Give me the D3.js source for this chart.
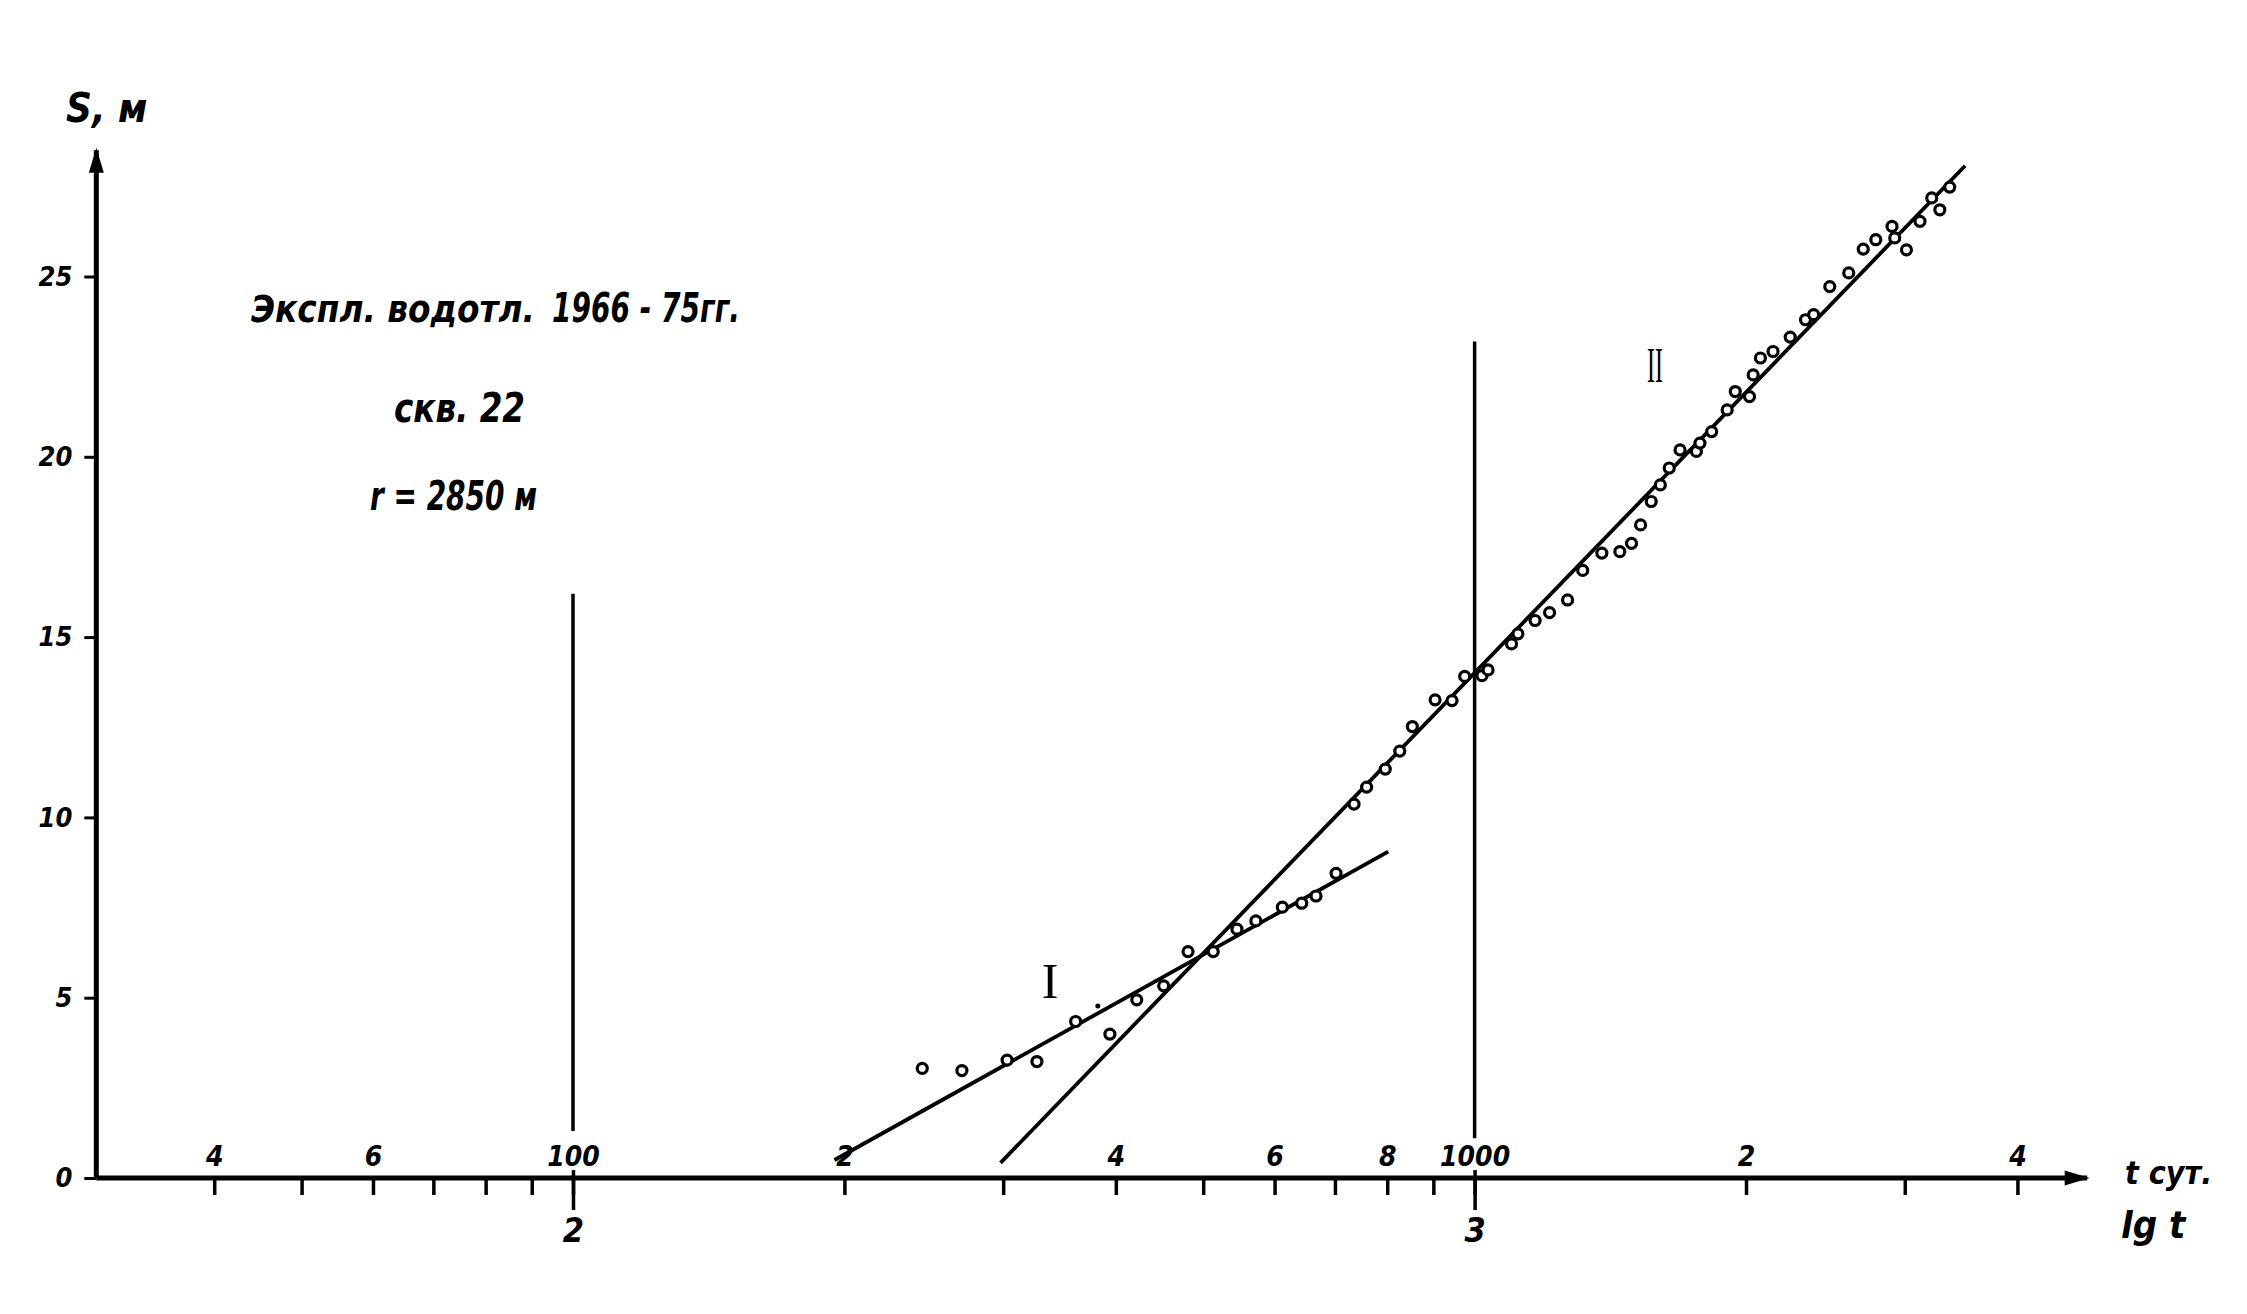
<!DOCTYPE html>
<html>
<head>
<meta charset="utf-8">
<script src="https://cdn.jsdelivr.net/npm/d3@7"></script>
<style>
  body { margin: 0; background: #fff; }
  text { font-family: "DejaVu Sans Condensed", "Liberation Sans Narrow", sans-serif; font-style: italic; font-weight: bold; fill: #000; }
  .roman { font-family: "Liberation Serif", "DejaVu Serif", serif; font-style: normal; font-weight: normal; }
</style>
</head>
<body>
<svg id="chart" width="2247" height="1314"></svg>
<script>
// observed drawdown S (m) vs time t (days)
const obsT = [244, 270, 303, 327, 361, 394, 422, 452, 481, 513, 545, 572, 612, 643, 667, 702,
  735, 759, 796, 826, 853, 904, 944, 975, 1019, 1035, 1099, 1117, 1167, 1211, 1268, 1318, 1384, 1449,
  1493, 1528, 1570, 1607, 1644, 1690, 1762, 1778, 1832, 1906, 1946, 2018, 2037, 2075, 2143, 2239,
  2328, 2377, 2477, 2600, 2698, 2786, 2904, 2924, 3013, 3119, 3214, 3281, 3365];
const obsS = [3.04, 2.98, 3.27, 3.23, 4.34, 3.99, 4.94, 5.33, 6.28, 6.28, 6.90, 7.13, 7.51, 7.62, 7.82, 8.45,
  10.37, 10.84, 11.34, 11.84, 12.52, 13.26, 13.24, 13.91, 13.93, 14.09, 14.81, 15.09, 15.46, 15.68, 16.03, 16.85, 17.33, 17.37,
  17.60, 18.11, 18.76, 19.22, 19.69, 20.19, 20.15, 20.38, 20.70, 21.30, 21.81, 21.67, 22.27, 22.74, 22.92, 23.32,
  23.80, 23.94, 24.72, 25.10, 25.76, 26.02, 26.39, 26.07, 25.74, 26.53, 27.18, 26.85, 27.48];
const dotT = [382], dotS = [4.77];

// straight lines I and II
const line1T = [195, 802], line1S = [0.5, 9.05];
const line2T = [298, 3500], line2S = [0.42, 28.07];

// vertical lines at lg t = 2 and 3
const refT = [100, 1000];
const refBottom = [1.3, 1.1];
const refTop = [16.2, 23.2];

const xTicks = [40, 50, 60, 70, 80, 90, 100, 200, 300, 400, 500, 600, 700, 800, 900, 1000, 2000, 3000, 4000];
const xLabelT = [40, 60, 100, 200, 400, 600, 800, 1000, 2000, 4000];
const xLabelText = ['4', '6', '100', '2', '4', '6', '8', '1000', '2', '4'];
const lgT = [100, 1000];
const lgText = ['2', '3'];
const yTicks = [0, 5, 10, 15, 20, 25];

const svg = d3.select('#chart');
svg.append('rect').attr('width', 2247).attr('height', 1314).attr('fill', '#fff');

const x = d3.scaleLog().domain([100, 1000]).range([573, 1474.6]);
const y = d3.scaleLinear().domain([0, 25]).range([1178, 276.5]);
const xStart = 29.6, xEnd = 4780, yEnd = 28.5;

// arrow heads
const defs = svg.append('defs');
defs.append('marker').attr('id', 'arrow')
  .attr('viewBox', '0 0 10 10').attr('refX', 9).attr('refY', 5)
  .attr('markerWidth', 9).attr('markerHeight', 5).attr('markerUnits', 'strokeWidth')
  .attr('orient', 'auto')
  .append('path').attr('d', 'M0,2 L10,5 L0,8 Z').attr('fill', '#000');

// axis lines
svg.append('line')
  .attr('x1', x(xStart)).attr('y1', y(0)).attr('x2', x(xEnd)).attr('y2', y(0))
  .attr('stroke', '#000').attr('stroke-width', 5).attr('marker-end', 'url(#arrow)');
svg.append('line')
  .attr('x1', x(xStart)).attr('y1', y(0)).attr('x2', x(xStart)).attr('y2', y(yEnd))
  .attr('stroke', '#000').attr('stroke-width', 5).attr('marker-end', 'url(#arrow)');

// x ticks below axis
const xAxis = svg.append('g').attr('transform', `translate(0,${y(0)})`)
  .call(d3.axisBottom(x).tickValues(xTicks).tickSize(17).tickFormat(''));
xAxis.select('.domain').remove();
xAxis.selectAll('.tick line').attr('stroke', '#000').attr('stroke-width', 3.5);

// t labels above axis
const xTop = svg.append('g').attr('transform', `translate(0,${y(0) - 8})`)
  .call(d3.axisTop(x).tickValues(xLabelT).tickSize(0).tickPadding(4)
    .tickFormat((d, i) => xLabelText[i]));
xTop.select('.domain').remove();
xTop.selectAll('text').attr('font-size', 28).style('font-family', null);

// lg t ticks and labels
const xLg = svg.append('g').attr('transform', `translate(0,${y(0) - 8})`)
  .call(d3.axisBottom(x).tickValues(lgT).tickSize(40).tickPadding(8)
    .tickFormat((d, i) => lgText[i]));
xLg.select('.domain').remove();
xLg.selectAll('.tick line').attr('stroke', '#000').attr('stroke-width', 3.5);
xLg.selectAll('text').attr('font-size', 34).style('font-family', null);

// y axis ticks
const yAxis = svg.append('g').attr('transform', `translate(${x(xStart)},0)`)
  .call(d3.axisLeft(y).tickValues(yTicks).tickSize(12).tickPadding(12));
yAxis.select('.domain').remove();
yAxis.selectAll('.tick line').attr('stroke', '#000').attr('stroke-width', 3);
yAxis.selectAll('text').attr('font-size', 27).style('font-family', null);

// vertical reference lines
svg.selectAll('.ref').data(refT).enter().append('line')
  .attr('class', 'ref')
  .attr('x1', d => x(d)).attr('x2', d => x(d))
  .attr('y1', (d, i) => y(refBottom[i])).attr('y2', (d, i) => y(refTop[i]))
  .attr('stroke', '#000').attr('stroke-width', 3.5);

// fitted lines
const line = d3.line().x(d => x(d[0])).y(d => y(d[1]));
svg.append('path').datum(line1T.map((t, i) => [t, line1S[i]]))
  .attr('d', line).attr('fill', 'none').attr('stroke', '#000').attr('stroke-width', 3.8);
svg.append('path').datum(line2T.map((t, i) => [t, line2S[i]]))
  .attr('d', line).attr('fill', 'none').attr('stroke', '#000').attr('stroke-width', 3.8);

// observation circles
svg.selectAll('.obs').data(obsT).enter().append('circle')
  .attr('class', 'obs')
  .attr('cx', d => x(d)).attr('cy', (d, i) => y(obsS[i]))
  .attr('r', 5).attr('fill', '#fff').attr('stroke', '#000').attr('stroke-width', 3.2);
svg.selectAll('.dot').data(dotT).enter().append('circle')
  .attr('cx', d => x(d)).attr('cy', (d, i) => y(dotS[i]))
  .attr('r', 2.5).attr('fill', '#000');

// axis titles
svg.append('text').attr('x', 66).attr('y', 122).attr('font-size', 40).text('S, м');
svg.append('text').attr('x', 2125).attr('y', 1184).attr('font-size', 32).text('t сут.');
svg.append('text').attr('x', 2121).attr('y', 1238).attr('font-size', 38).text('lg t');

// annotation
svg.append('text').attr('x', 251).attr('y', 322).attr('font-size', 38)
  .attr('textLength', 284).attr('lengthAdjust', 'spacingAndGlyphs').text('Экспл. водотл.');
svg.append('text').attr('x', 552).attr('y', 322).attr('font-size', 40)
  .attr('textLength', 188).attr('lengthAdjust', 'spacingAndGlyphs').text('1966 - 75гг.');
svg.append('text').attr('x', 394).attr('y', 422).attr('font-size', 40)
  .attr('textLength', 131).attr('lengthAdjust', 'spacingAndGlyphs').text('скв. 22');
svg.append('text').attr('x', 370).attr('y', 510).attr('font-size', 40)
  .attr('textLength', 167).attr('lengthAdjust', 'spacingAndGlyphs').text('r = 2850 м');

// line labels
svg.append('text').attr('class', 'roman').attr('x', 1050).attr('y', 998)
  .attr('font-size', 50).attr('text-anchor', 'middle').text('I');
svg.append('text').attr('class', 'roman').attr('x', 1655).attr('y', 382)
  .attr('font-size', 50).attr('text-anchor', 'middle')
  .attr('textLength', 16).attr('lengthAdjust', 'spacingAndGlyphs').text('II');
</script>
</body>
</html>
